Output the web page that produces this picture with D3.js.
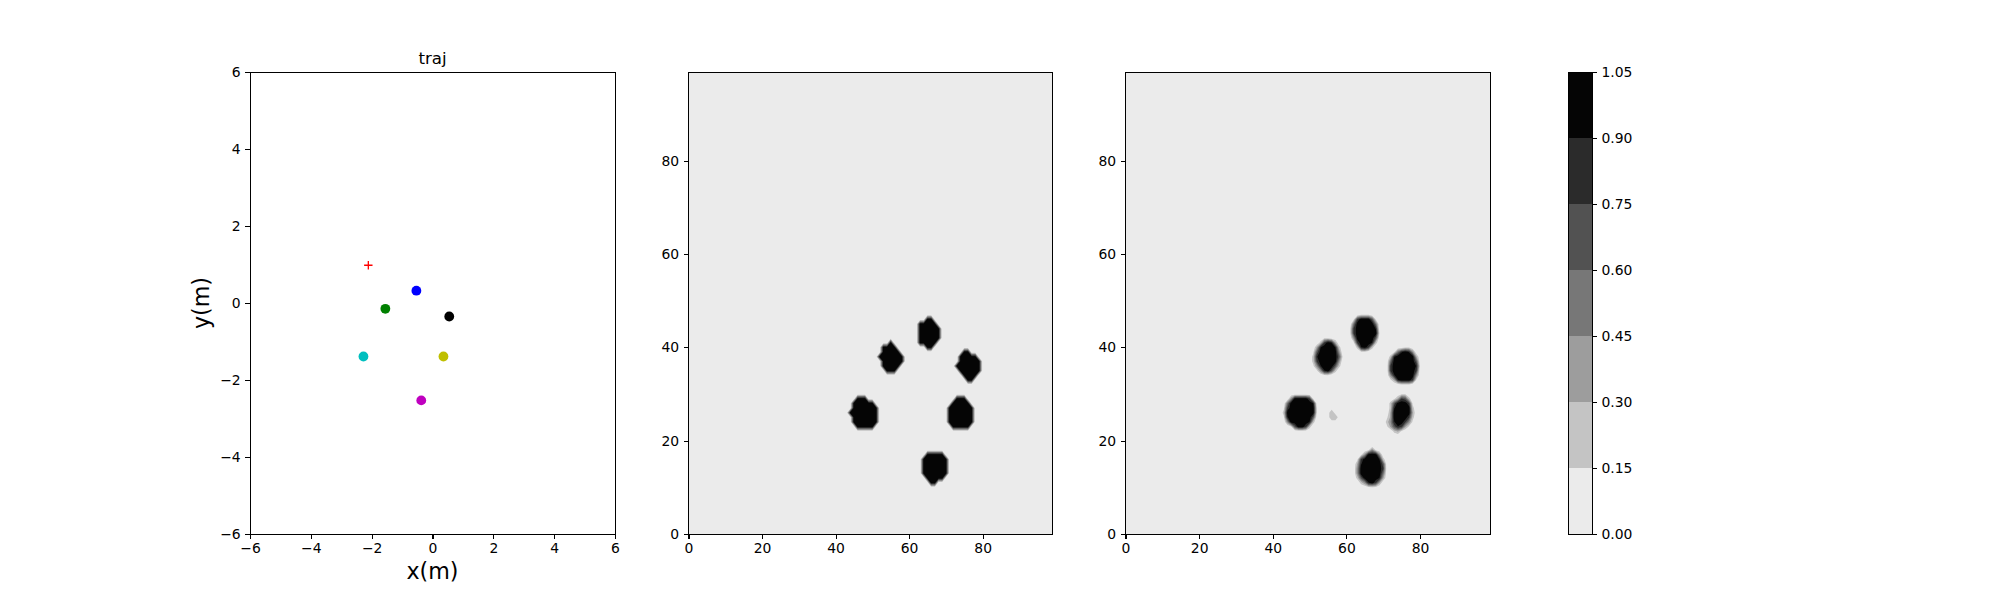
<!DOCTYPE html>
<html>
<head>
<meta charset="utf-8">
<script src="https://cdn.jsdelivr.net/npm/d3@7"></script>
<style>
  body { margin: 0; background: #fff; }
  text { font-family: "DejaVu Sans", sans-serif; fill: #000; }
  .tick line { stroke: #000; stroke-width: 1.1; shape-rendering: crispEdges; }
  .frame { fill: none; stroke: #000; stroke-width: 1; shape-rendering: crispEdges; }
</style>
</head>
<body>
<svg id="fig" width="2000" height="600"></svg>
<script>
// traj panel
var trajX = [-0.53, -1.55, 0.55, 0.36, -2.27, -0.37];
var trajY = [0.32, -0.15, -0.35, -1.39, -1.39, -2.53];
var trajColors = ['#0000ff', '#008000', '#000000', '#bfbf00', '#00bfbf', '#bf00bf'];
var targetX = [-2.11];
var targetY = [0.98];
var trajTicks = [-6, -4, -2, 0, 2, 4, 6];
var gridTicks = [0, 20, 40, 60, 80];

// contour levels, colorbar
var levels = [0, 0.15, 0.30, 0.45, 0.60, 0.75, 0.90, 1.05];
var levelColors = ['#ebebeb', '#c4c4c4', '#9d9d9d', '#777777', '#525252', '#2b2b2b', '#050505'];

// fields, digit d = d/9, first row is fieldTopRow, first column is fieldFirstCol
var fieldFirstCol = 42;
var fieldTopRow = 47;
var fieldLeft = [
  '0000000000 0000000000 0000000000 0000000000', // 47
  '0000000000 0000000000 0009900000 0000000000',
  '0000000000 0000000000 0999990000 0000000000',
  '0000000000 0000000000 0999999000 0000000000',
  '0000000000 0000000000 0999999000 0000000000',
  '0000000000 0000000000 0999999000 0000000000',
  '0000000000 0009000000 0999990000 0000000000',
  '0000000000 0999900000 0009900000 0000000000', // 40
  '0000000000 0999990000 0000000000 0009900000',
  '0000000000 9999999000 0000000000 0099999000',
  '0000000000 0999999000 0000000000 0099999900',
  '0000000000 0999990000 0000000000 0999999900',
  '0000000000 0099900000 0000000000 0099999900',
  '0000000000 0000000000 0000000000 0009999000',
  '0000000000 0000000000 0000000000 0000990000',
  '0000000000 0000000000 0000000000 0000000000', // 32
  '0000000000 0000000000 0000000000 0000000000',
  '0000000000 0000000000 0000000000 0000000000',
  '0000999000 0000000000 0000000000 0999000000',
  '0009999990 0000000000 0000000000 9999900000',
  '0009999999 0000000000 0000000009 9999990000',
  '0099999999 0000000000 0000000009 9999990000',
  '0009999999 0000000000 0000000009 9999990000',
  '0009999999 0000000000 0000000009 9999990000', // 24
  '0000999990 0000000000 0000000000 9999900000',
  '0000000000 0000000000 0000000000 0000000000',
  '0000000000 0000000000 0000000000 0000000000',
  '0000000000 0000000000 0000000000 0000000000',
  '0000000000 0000000000 0000000000 0000000000',
  '0000000000 0000000000 0000000000 0000000000', // 18
  '0000000000 0000000000 0009999900 0000000000',
  '0000000000 0000000000 0099999990 0000000000',
  '0000000000 0000000000 0099999990 0000000000',
  '0000000000 0000000000 0099999990 0000000000',
  '0000000000 0000000000 0099999990 0000000000',
  '0000000000 0000000000 0009999900 0000000000',
  '0000000000 0000000000 0000990000 0000000000'  // 11
];
var fieldRight = [
  '0000000000 0000000000 0011100000 0000000000', // 47
  '0000000000 0000000000 1799961000 0000000000',
  '0000000000 0000000000 5999995000 0000000000',
  '0000000000 0000000001 7999998000 0000000000',
  '0000000000 0000000001 7999999100 0000000000',
  '0000000000 0011000000 4999996000 0000000000',
  '0000000000 0279830000 1799982000 0000000000',
  '0000000000 3899982000 0289720000 0000110000', // 40
  '0000000001 6999994000 0011000000 0158984000',
  '0000000002 8999996100 0000000000 2899999300',
  '0000000002 7999994000 0000000000 5999999600',
  '0000000001 4899962000 0000000000 7999999810',
  '0000000000 1489620000 0000000000 7999999700',
  '0000000000 0011000000 0000000000 4899999400',
  '0000000000 0000000000 0000000000 1389997100',
  '0000000000 0000000000 0000000000 0001110000', // 32
  '0000000000 0000000000 0000000000 0000000000',
  '0000000000 0000000000 0000000000 0001100000',
  '0004999971 0000000000 0000000000 0137620000',
  '0059999998 0000000000 0000000000 2699971000',
  '0179999999 1000100000 0000000000 2899992000',
  '0299999999 1001210000 0000000000 3999993000',
  '0189999996 0001221000 0000000001 3999972000',
  '0049999982 0000110000 0000000002 4899741000', // 24
  '0001699720 0000000000 0000000001 3687310000',
  '0000000000 0000000000 0000000000 0231000000',
  '0000000000 0000000000 0000000000 0000000000',
  '0000000000 0000000000 0000000000 0000000000',
  '0000000000 0000000000 0000000000 0000000000',
  '0000000000 0000000000 0000141000 0000000000', // 18
  '0000000000 0000000000 0014999400 0000000000',
  '0000000000 0000000000 0179999820 0000000000',
  '0000000000 0000000000 0389999960 0000000000',
  '0000000000 0000000000 0499999970 0000000000',
  '0000000000 0000000000 0499999950 0000000000',
  '0000000000 0000000000 0269999830 0000000000',
  '0000000000 0000000000 0024897300 0000000000',
  '0000000000 0000000000 0000111000 0000000000'  // 10
];

var svg = d3.select('#fig');
var top_ = 72, bottom = 534;
var gridSize = 100;

function frame(g, x0, x1){
  g.append('rect')
    .attr('class', 'frame')
    .attr('x', x0)
    .attr('y', top_)
    .attr('width', x1 - x0)
    .attr('height', bottom - top_);
}

function axes(g, x, y, xTicks, yTicks){
  var xa = g.append('g')
    .attr('transform', 'translate(0,' + bottom + ')')
    .call(d3.axisBottom(x).tickValues(xTicks).tickFormat(d3.format('d')).tickSize(4.9).tickPadding(4.5));
  var ya = g.append('g')
    .attr('transform', 'translate(' + x.range()[0] + ',0)')
    .call(d3.axisLeft(y).tickValues(yTicks).tickFormat(d3.format('d')).tickSize(4.9).tickPadding(4.5));
  xa.select('.domain').remove();
  ya.select('.domain').remove();
  g.selectAll('.tick text').style('font-size', '13.9px');
}

function parseField(rows){
  var values = new Array(gridSize * gridSize).fill(0);
  rows.forEach(function(row, i){
    var v = fieldTopRow - i;
    row.replace(/ /g, '').split('').forEach(function(c, j){
      values[v * gridSize + fieldFirstCol + j] = +c / 9;
    });
  });
  return values;
}

function fieldPanel(x0, x1, rows, id){
  var g = svg.append('g');
  var x = d3.scaleLinear().domain([0, 99]).range([x0, x1]);
  var y = d3.scaleLinear().domain([0, 99]).range([bottom, top_]);

  // d3.contours puts grid point i at i + 0.5
  var path = d3.geoPath(d3.geoTransform({
    point: function(px, py){ this.stream.point(x(px - 0.5), y(py - 0.5)); }
  }));

  var contours = d3.contours()
    .size([gridSize, gridSize])
    .thresholds(levels.slice(1, -1))(parseField(rows));

  g.append('clipPath').attr('id', id)
    .append('rect')
    .attr('x', x0).attr('y', top_).attr('width', x1 - x0).attr('height', bottom - top_);

  g.append('rect')
    .attr('x', x0).attr('y', top_).attr('width', x1 - x0).attr('height', bottom - top_)
    .attr('fill', levelColors[0]);

  g.append('g')
    .attr('clip-path', 'url(#' + id + ')')
    .selectAll('path')
    .data(contours)
    .enter().append('path')
    .attr('d', path)
    .attr('fill', function(d, i){ return levelColors[i + 1]; });

  axes(g, x, y, gridTicks, gridTicks);
  frame(g, x0, x1);
}

function trajPanel(x0, x1){
  var g = svg.append('g');
  var x = d3.scaleLinear().domain([-6, 6]).range([x0, x1]);
  var y = d3.scaleLinear().domain([-6, 6]).range([bottom, top_]);

  g.selectAll('circle')
    .data(trajX)
    .enter().append('circle')
    .attr('cx', function(d){ return x(d); })
    .attr('cy', function(d, i){ return y(trajY[i]); })
    .attr('r', 4.9)
    .attr('fill', function(d, i){ return trajColors[i]; });

  g.selectAll('path.target')
    .data(targetX)
    .enter().append('path')
    .attr('class', 'target')
    .attr('d', function(d, i){
      var cx = x(d), cy = y(targetY[i]);
      return 'M' + (cx - 4.2) + ',' + cy + 'H' + (cx + 4.2) + 'M' + cx + ',' + (cy - 4.2) + 'V' + (cy + 4.2);
    })
    .attr('stroke', '#ff0000')
    .attr('stroke-width', 1.3)
    .attr('fill', 'none');

  axes(g, x, y, trajTicks, trajTicks);
  frame(g, x0, x1);

  g.append('text')
    .attr('x', (x0 + x1) / 2).attr('y', 63.5)
    .attr('text-anchor', 'middle')
    .style('font-size', '16.67px')
    .text('traj');
  g.append('text')
    .attr('x', (x0 + x1) / 2).attr('y', 579)
    .attr('text-anchor', 'middle')
    .style('font-size', '22.2px')
    .text('x(m)');
  g.append('text')
    .attr('transform', 'translate(209,' + (top_ + bottom) / 2 + ') rotate(-90)')
    .attr('text-anchor', 'middle')
    .style('font-size', '22.2px')
    .text('y(m)');
}

function colorbar(x0, x1){
  var g = svg.append('g');
  var y = d3.scaleLinear().domain([0, 1.05]).range([bottom, top_]);

  g.selectAll('rect.band')
    .data(levelColors)
    .enter().append('rect')
    .attr('class', 'band')
    .attr('x', x0)
    .attr('width', x1 - x0)
    .attr('y', function(d, i){ return y(levels[i + 1]); })
    .attr('height', function(d, i){ return y(levels[i]) - y(levels[i + 1]); })
    .attr('fill', function(d){ return d; });

  var a = g.append('g')
    .attr('transform', 'translate(' + x1 + ',0)')
    .call(d3.axisRight(y).tickValues(levels).tickFormat(d3.format('.2f')).tickSize(4.9).tickPadding(4.5));
  a.select('.domain').remove();
  a.selectAll('.tick text').style('font-size', '13.9px');
  frame(g, x0, x1);
}

trajPanel(250, 615);
fieldPanel(688.5, 1052.5, fieldLeft, 'clipLeft');
fieldPanel(1125.5, 1490, fieldRight, 'clipRight');
colorbar(1568, 1592);
</script>
</body>
</html>
